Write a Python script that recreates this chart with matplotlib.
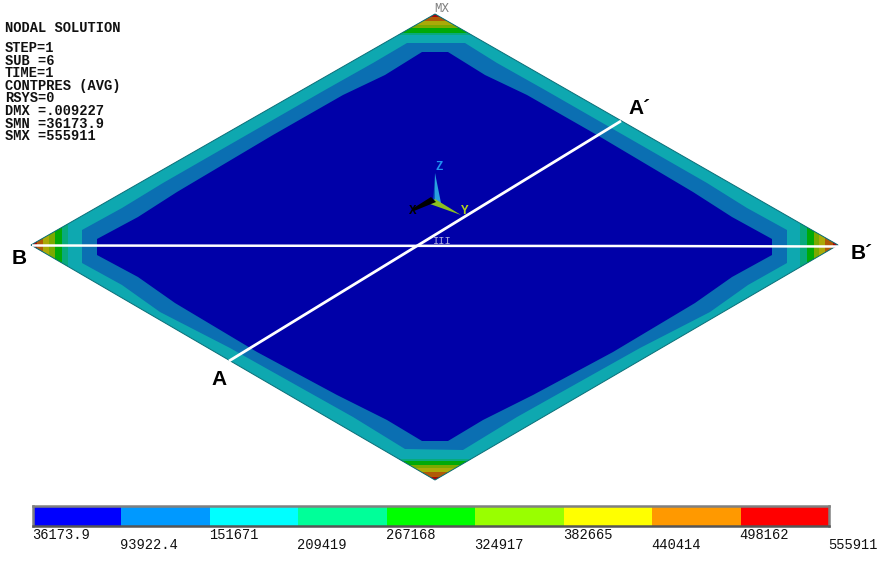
import matplotlib
matplotlib.use('Agg')
import matplotlib.pyplot as plt
from matplotlib.patches import Polygon

# Legend values and colours of the ANSYS contour bar
levels = [36173.9, 93922.4, 151671, 209419, 267168, 324917, 382665, 440414, 498162, 555911]
level_labels = ['36173.9', '93922.4', '151671', '209419', '267168', '324917', '382665', '440414', '498162', '555911']
legend_colors = ['#0000ff', '#0099ff', '#00ffff', '#00ff99', '#00ff00', '#99ff00', '#ffff00', '#ff9900', '#ff0000']

# Header text block
header_lines = ['STEP=1', 'SUB =6', 'TIME=1', 'CONTPRES (AVG)', 'RSYS=0', 'DMX =.009227', 'SMN =36173.9', 'SMX =555911']

# Contour outlines, in image pixels
plate_x = [435, 838, 435, 31]
plate_y = [14, 245, 480, 245]
mid_x = [407, 465, 497, 545, 707, 747, 787, 787, 748, 710, 640, 517, 463, 405, 353, 230, 160, 122, 82, 82, 122, 163, 325, 373]
mid_y = [43, 43, 63, 90, 183, 208, 230, 263, 285, 312, 348, 417, 450, 449, 417, 348, 312, 285, 263, 230, 208, 183, 90, 63]
low_x = [422, 448, 485, 527, 597, 693, 732, 772, 772, 732, 695, 613, 533, 483, 448, 422, 387, 337, 257, 175, 138, 97, 97, 138, 177, 273, 343, 385]
low_y = [52, 52, 75, 95, 135, 192, 217, 239, 255, 277, 303, 352, 395, 420, 441, 441, 420, 395, 352, 303, 277, 255, 239, 217, 192, 135, 95, 75]

# Hot bands at the four corners: band edges in image pixels, from the tip inwards
band_colors = ['#a80808', '#b05a08', '#aaaa08', '#7aaa00', '#00aa08', '#08aa7c']
top_edges = [13, 17, 21, 25, 28, 33, 35]
bottom_edges = [481, 477, 472, 468, 465, 461, 459]
left_edges = [30, 37, 43, 49, 55, 62, 68]
right_edges = [839, 833, 825, 819, 814, 807, 800]

# Section lines A-A' and B-B'
line_aa_x = [229, 621]
line_aa_y = [361, 121]
line_bb_x = [32, 230, 636, 838]
line_bb_y = [245.5, 245.7, 246, 246.5]

fig = plt.figure(figsize=(8.96, 5.61), dpi=100)
ax = fig.add_axes([0, 0, 1, 1])
ax.set_xlim(0, 896)
ax.set_ylim(561, 0)
ax.axis('off')

# Plate with its nested contour regions
plate = Polygon(list(zip(plate_x, plate_y)), closed=True, facecolor='#0ea8b0', edgecolor='none', zorder=1)
ax.add_patch(plate)
ax.fill(mid_x, mid_y, color='#0b6fb2', lw=0, zorder=2)
ax.fill(low_x, low_y, color='#0000a8', lw=0, zorder=3)

# Corner bands are clipped to the plate outline
for i, c in enumerate(band_colors):
    h1 = ax.axhspan(top_edges[i], top_edges[i + 1], color=c, lw=0, zorder=2)
    h2 = ax.axhspan(bottom_edges[i + 1], bottom_edges[i], color=c, lw=0, zorder=2)
    v1 = ax.axvspan(left_edges[i], left_edges[i + 1], color=c, lw=0, zorder=2)
    v2 = ax.axvspan(right_edges[i + 1], right_edges[i], color=c, lw=0, zorder=2)
    for h in [h1, h2, v1, v2]:
        h.set_clip_path(plate)

ax.add_patch(Polygon(list(zip(plate_x, plate_y)), closed=True, fill=False, edgecolor='#0a6f78', lw=0.7, zorder=4))

# Section lines
ax.plot(line_aa_x, line_aa_y, color='white', lw=2.0, zorder=5, solid_capstyle='butt')
ax.plot(line_bb_x, line_bb_y, color='white', lw=1.8, zorder=5, solid_capstyle='butt')

# Triad at the plate centre
ax.fill([433, 435, 436], [204, 173, 204], color='#0b5fc0', lw=0, zorder=6)
ax.fill([435, 435, 441], [204, 173, 203], color='#2aa0e0', lw=0, zorder=6)
ax.fill([430, 435, 461], [204, 199, 215], color='#8cc020', lw=0, zorder=6)
ax.fill([431, 436, 414, 412], [197, 202, 211, 209], color='black', lw=0, zorder=6)
ax.text(439, 167, 'Z', color='#2090f0', fontsize=9, fontweight='bold', family='Liberation Mono', ha='center', va='center', zorder=7)
ax.text(465, 211, 'Y', color='#b0d020', fontsize=9, fontweight='bold', family='Liberation Mono', ha='center', va='center', zorder=7)
ax.text(413, 211, 'X', color='black', fontsize=9, fontweight='bold', family='Liberation Mono', ha='center', va='center', zorder=7)
ax.text(442.5, 241, 'III', color='#b0b0e0', fontsize=7.5, family='Liberation Mono', ha='center', va='center', zorder=7)
ax.text(442, 9, 'MX', color='#808080', fontsize=9, family='Liberation Mono', ha='center', va='center', zorder=7)

# Section labels
for label, x, y in [('A', 219, 379), ("A\u00b4", 628, 108), ('B', 12, 258), ("B\u00b4", 851, 253)]:
    ax.text(x, y, label, fontsize=15, fontweight='bold', family='Liberation Sans', color='black',
            ha='center' if label == 'A' else 'left', va='center', zorder=7)

# Header
ax.text(5, 28, 'NODAL SOLUTION', fontsize=9.9, family='Liberation Mono', fontweight='bold', color='#111111', va='center')
for i, line in enumerate(header_lines):
    ax.text(5, 48 + i * 12.6, line, fontsize=9.9, family='Liberation Mono', fontweight='bold', color='#111111', va='center')

# Contour legend, on its own axes scaled by the contour values
cax = fig.add_axes([33 / 896, 1 - 526 / 561, 796 / 896, 20 / 561])
cax.set_xlim(levels[0], levels[-1])
cax.set_ylim(0, 1)
cax.set_xticks([])
cax.set_yticks([])
cax.set_facecolor('#888888')
for s in cax.spines.values():
    s.set_edgecolor('#808080')
    s.set_linewidth(1.8)
cax.spines['bottom'].set_edgecolor('#555555')
for i, c in enumerate(legend_colors):
    cax.bar(levels[i], 1, width=levels[i + 1] - levels[i], align='edge', color=c, lw=0)

for i, lab in enumerate(level_labels):
    y_off = -0.45 if i % 2 == 0 else -0.95
    cax.annotate(lab, (levels[i], y_off), xycoords=cax.get_xaxis_transform(), xytext=(-1, 0),
                 textcoords='offset pixels', fontsize=9.9, annotation_clip=False,
                 family='Liberation Mono', color='#111111', ha='left', va='center')

fig.savefig('out.png', dpi=100)
